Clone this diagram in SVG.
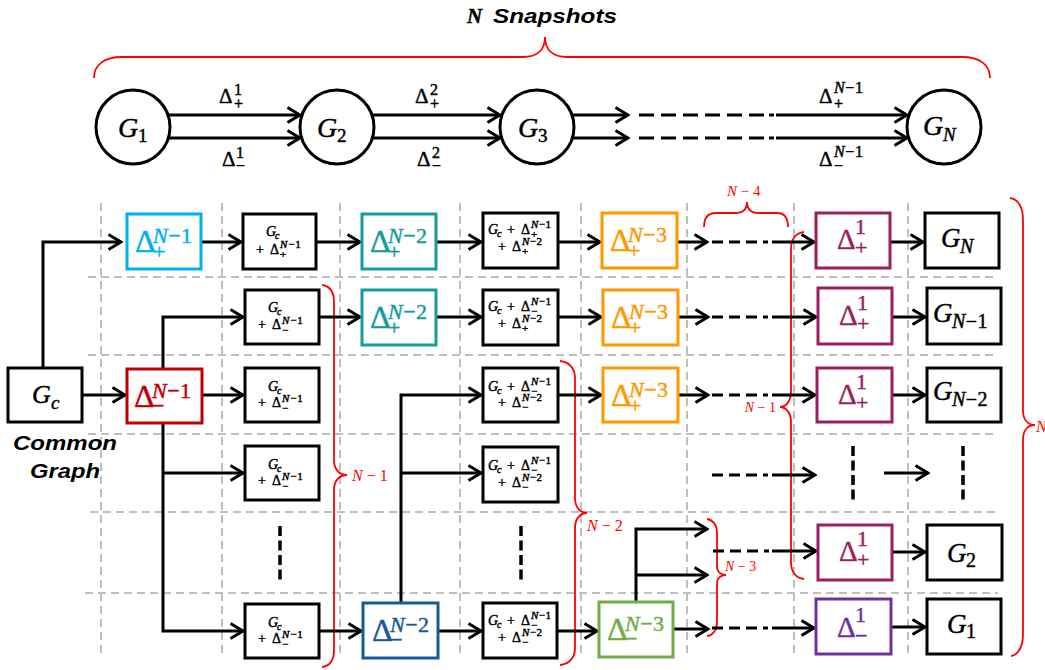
<svg xmlns="http://www.w3.org/2000/svg" width="1045" height="670" viewBox="0 0 1045 670">
<style>
.g{fill:none;stroke:#BFBFBF;stroke-width:2;stroke-dasharray:8 5}
.box{fill:#fff;stroke:#000;stroke-width:3}
.cb{fill:#fff;stroke-width:3}
.c{fill:none;stroke:#000;stroke-width:3}
.a{marker-end:url(#ah)}
.dd{fill:none;stroke:#000;stroke-width:3;stroke-dasharray:11 6 11 6 11 6 5 5}
.td{fill:none;stroke:#000;stroke-width:3;stroke-dasharray:15 7 15 7 15 7 15 7 15 7 15 5 5 4}
.vd{fill:none;stroke:#000;stroke-width:3.5;stroke-dasharray:10 4.5}
.br{fill:none;stroke:#FF0000;stroke-width:1.8}
.m{font-family:"Liberation Serif",serif;stroke:currentColor;stroke-width:0.45}
.i{font-style:italic}
.r{fill:#FF0000;font-family:"Liberation Serif",serif}
.s{font-family:"Liberation Sans",Arial,sans-serif;font-weight:bold;font-style:italic}
</style>
<defs>
<marker id="ah" markerUnits="userSpaceOnUse" markerWidth="16" markerHeight="18" viewBox="0 0 16 18" refX="14" refY="9" orient="auto">
<path d="M1.5,1.5 L14,9 L1.5,16.5" fill="none" stroke="#000" stroke-width="3"/>
</marker>
</defs>

<g id="title" color="#000">
<text class="m i" x="467" y="23" font-size="21" font-weight="bold">N</text>
<text class="s" x="493" y="23" font-size="21" textLength="124" lengthAdjust="spacingAndGlyphs">Snapshots</text>
</g>

<g id="grid">
<path class="g" d="M101,203V656M222,203V656M340,203V656M460,203V656M581,203V656M687,203V656M794,203V656M908,203V656"/>
<path class="g" d="M88,277H998M88,355H998M88,434H998M90,512H998M85,593H998"/>
</g>

<g id="braces">
<path class="br" d="M94,78 C94,65 104,57 122,57 H523 C537,57 545,50 545,37 C545,50 553,57 567,57 H962 C980,57 990,65 990,78"/>
<path class="br" d="M704,227 C704,218 708,213 716,213 H735 C743,213 747,209 747,202 C747,209 751,213 759,213 H777 C785,213 788,218 788,227"/>
<path class="br" d="M322,285 C330,286 334,292 334,302 V460 C334,469 339,475 347,475 C339,475 334,481 334,490 V650 C334,660 330,666 322,667"/>
<path class="br" d="M560,361 C569,362 575,368 575,378 V498 C575,507 580,513 587,513 C580,513 575,519 575,528 V648 C575,658 569,664 560,665"/>
<path class="br" d="M804,232 C796,233 791,239 791,249 V392 C791,401 786,407 780,407 C786,407 791,413 791,422 V562 C791,572 796,578 804,579"/>
<path class="br" d="M707,519 C713,520 717,525 717,533 V566 C717,572 721,575 726,575 C721,575 717,578 717,584 V622 C717,630 713,635 707,636"/>
<path class="br" d="M1010,198 C1018,199 1023,207 1023,220 V410 C1023,420 1028,425 1035,425 C1028,425 1023,430 1023,440 V634 C1023,647 1018,655 1011,656"/>
<text class="r" x="727" y="196" font-size="15"><tspan class="i">N</tspan> − 4</text>
<text class="r" x="352" y="481" font-size="16"><tspan class="i">N</tspan> − 1</text>
<text class="r" x="587" y="531" font-size="16"><tspan class="i">N</tspan> − 2</text>
<text class="r" x="776" y="412" font-size="14" text-anchor="end"><tspan class="i">N</tspan> − 1</text>
<text class="r" x="725" y="571" font-size="14"><tspan class="i">N</tspan> − 3</text>
<text class="r i" x="1036" y="432" font-size="16">N</text>
</g>

<g id="connectors">
<path class="c a" d="M168,115H300"/>
<path class="c a" d="M168,138H300"/>
<path class="c a" d="M372,115H500"/>
<path class="c a" d="M372,138H500"/>
<path class="c a" d="M572,115H628"/>
<path class="c a" d="M572,138H628"/>
<path class="td" d="M639,115H777M639,138H777"/>
<path class="c a" d="M776,115H907"/>
<path class="c a" d="M776,138H907"/>

<path class="c a" d="M43,368V242H121"/>
<path class="c a" d="M201,242H241"/>
<path class="c a" d="M316,242H360"/>
<path class="c a" d="M436,242H481"/>
<path class="c a" d="M558,242H600"/>
<path class="c a" d="M677,242H707"/>
<path class="dd" d="M712,242H773"/>
<path class="c a" d="M772,242H814"/>
<path class="c a" d="M890,242H923"/>

<path class="c a" d="M163,369V317H243"/>
<path class="c a" d="M319,317H360"/>
<path class="c a" d="M436,317H481"/>
<path class="c a" d="M558,317H601"/>
<path class="c a" d="M678,317H708"/>
<path class="dd" d="M712,317H773"/>
<path class="c a" d="M772,317H816"/>
<path class="c a" d="M892,317H925"/>

<path class="c a" d="M82,395H125"/>
<path class="c a" d="M202,395H243"/>
<path class="c a" d="M401,603V395H481"/>
<path class="c a" d="M558,395H601"/>
<path class="c a" d="M678,395H708"/>
<path class="dd" d="M712,395H773"/>
<path class="c a" d="M772,395H815"/>
<path class="c a" d="M892,395H925"/>

<path class="c a" d="M163,423V631H243"/>
<path class="c a" d="M163,473H243"/>
<path class="c a" d="M401,473H481"/>
<path class="dd" d="M712,475H773"/>
<path class="c a" d="M772,475H815"/>
<path class="vd" d="M853,446V500"/>
<path class="c a" d="M884,473H928"/>
<path class="vd" d="M963,446V500"/>

<path class="vd" d="M280,526V580"/>
<path class="vd" d="M521,526V580"/>
<path class="c a" d="M636,602V529H707"/>
<path class="c a" d="M636,575H707"/>
<path class="dd" d="M713,551H773"/>
<path class="c a" d="M772,551H816"/>
<path class="c a" d="M892,552H925"/>

<path class="c a" d="M319,631H361"/>
<path class="c a" d="M438,631H481"/>
<path class="c a" d="M557,631H597"/>
<path class="c a" d="M673,629H708"/>
<path class="dd" d="M712,628H773"/>
<path class="c a" d="M772,628H814"/>
<path class="c a" d="M891,627H925"/>
</g>

<g id="G1" color="#000"><circle class="box" cx="133" cy="127" r="37"/><text class="m i" x="118" y="137" font-size="28">G</text><text class="m" x="138" y="142" font-size="19">1</text></g>
<g id="G2" color="#000"><circle class="box" cx="337" cy="127" r="37"/><text class="m i" x="317" y="137" font-size="28">G</text><text class="m" x="337" y="142" font-size="19">2</text></g>
<g id="G3" color="#000"><circle class="box" cx="537" cy="127" r="37"/><text class="m i" x="518" y="137" font-size="28">G</text><text class="m" x="538" y="142" font-size="19">3</text></g>
<g id="GN" color="#000"><circle class="box" cx="944" cy="127" r="37"/><text class="m i" x="923" y="135" font-size="28">G</text><text class="m i" x="943" y="141" font-size="19">N</text></g>

<g id="top-labels" color="#000">
<text class="m" x="219" y="103" font-size="21">Δ</text><text class="m" x="234" y="95" font-size="16">1</text><text class="m" x="234" y="109" font-size="16">+</text>
<text class="m" x="222" y="166" font-size="21">Δ</text><text class="m" x="236" y="158" font-size="16">1</text><text class="m" x="236" y="171" font-size="16">−</text>
<text class="m" x="415" y="103" font-size="21">Δ</text><text class="m" x="430" y="95" font-size="16">2</text><text class="m" x="430" y="109" font-size="16">+</text>
<text class="m" x="417" y="166" font-size="21">Δ</text><text class="m" x="432" y="158" font-size="16">2</text><text class="m" x="432" y="171" font-size="16">−</text>
<text class="m" x="819" y="103" font-size="21">Δ</text><text class="m" x="834" y="93" font-size="16" letter-spacing="0.6"><tspan class="i">N</tspan>−1</text><text class="m" x="834" y="109" font-size="16">+</text>
<text class="m" x="819" y="166" font-size="21">Δ</text><text class="m" x="834" y="157" font-size="16" letter-spacing="0.6"><tspan class="i">N</tspan>−1</text><text class="m" x="834" y="171" font-size="16">−</text>
</g>

<g id="Gc" color="#000"><rect class="box" x="8" y="368" width="74" height="54"/><text class="m i" x="32" y="403" font-size="26">G</text><text class="m i" x="51" y="409" font-size="19">c</text></g>
<g id="common-label"><text class="s" x="13" y="450" font-size="20" textLength="104" lengthAdjust="spacingAndGlyphs">Common</text><text class="s" x="30" y="478" font-size="20" textLength="70" lengthAdjust="spacingAndGlyphs">Graph</text></g>

<g id="dP1" color="#00B0F0" fill="currentColor"><rect class="cb" stroke="#00B0F0" x="127" y="214" width="74" height="55"/><text class="m" x="135" y="252" font-size="32">Δ</text><text class="m" x="153" y="243" font-size="22" letter-spacing="0.5"><tspan class="i">N</tspan>−1</text><text class="m" x="153" y="259" font-size="22">+</text></g>
<g id="dM1" color="#C00000" fill="currentColor"><rect class="cb" stroke="#C00000" x="127" y="369" width="75" height="54"/><text class="m" x="134" y="407" font-size="32">Δ</text><text class="m" x="152" y="398" font-size="22" letter-spacing="0.5"><tspan class="i">N</tspan>−1</text><text class="m" x="152" y="413" font-size="22">−</text></g>

<g id="c2r1" color="#000"><rect class="box" x="243" y="214" width="73" height="55"/><text class="m i" x="266" y="236" font-size="14">G</text><text class="m i" x="275" y="239" font-size="10">c</text><text class="m" x="256" y="254" font-size="14">+</text><text class="m" x="270" y="254" font-size="14">Δ</text><text class="m" x="280" y="248" font-size="11" letter-spacing="0.8"><tspan class="i">N</tspan>−1</text><text class="m" x="280" y="258" font-size="11">+</text></g>
<g id="c2r2" color="#000"><rect class="box" x="245" y="290" width="74" height="54"/><text class="m i" x="268" y="312" font-size="14">G</text><text class="m i" x="277" y="315" font-size="10">c</text><text class="m" x="258" y="329" font-size="14">+</text><text class="m" x="272" y="329" font-size="14">Δ</text><text class="m" x="282" y="324" font-size="11" letter-spacing="0.8"><tspan class="i">N</tspan>−1</text><text class="m" x="282" y="334" font-size="11">−</text></g>
<g id="c2r3" color="#000"><rect class="box" x="245" y="368" width="74" height="54"/><text class="m i" x="268" y="391" font-size="14">G</text><text class="m i" x="277" y="394" font-size="10">c</text><text class="m" x="258" y="407" font-size="14">+</text><text class="m" x="272" y="407" font-size="14">Δ</text><text class="m" x="282" y="402" font-size="11" letter-spacing="0.8"><tspan class="i">N</tspan>−1</text><text class="m" x="282" y="412" font-size="11">−</text></g>
<g id="c2r4" color="#000"><rect class="box" x="245" y="446" width="74" height="54"/><text class="m i" x="268" y="469" font-size="14">G</text><text class="m i" x="277" y="472" font-size="10">c</text><text class="m" x="258" y="485" font-size="14">+</text><text class="m" x="272" y="485" font-size="14">Δ</text><text class="m" x="282" y="480" font-size="11" letter-spacing="0.8"><tspan class="i">N</tspan>−1</text><text class="m" x="282" y="490" font-size="11">−</text></g>
<g id="c2r6" color="#000"><rect class="box" x="245" y="604" width="74" height="54"/><text class="m i" x="268" y="627" font-size="14">G</text><text class="m i" x="277" y="630" font-size="10">c</text><text class="m" x="258" y="643" font-size="14">+</text><text class="m" x="272" y="643" font-size="14">Δ</text><text class="m" x="282" y="638" font-size="11" letter-spacing="0.8"><tspan class="i">N</tspan>−1</text><text class="m" x="282" y="648" font-size="11">−</text></g>

<g id="dP2a" color="#179B9B" fill="currentColor"><rect class="cb" stroke="#179B9B" x="362" y="214" width="74" height="55"/><text class="m" x="370" y="252" font-size="32">Δ</text><text class="m" x="388" y="243" font-size="22" letter-spacing="0.5"><tspan class="i">N</tspan>−2</text><text class="m" x="388" y="259" font-size="22">+</text></g>
<g id="dP2b" color="#179B9B" fill="currentColor"><rect class="cb" stroke="#179B9B" x="362" y="290" width="74" height="55"/><text class="m" x="370" y="328" font-size="32">Δ</text><text class="m" x="388" y="319" font-size="22" letter-spacing="0.5"><tspan class="i">N</tspan>−2</text><text class="m" x="388" y="335" font-size="22">+</text></g>
<g id="dM2" color="#175A9C" fill="currentColor"><rect class="cb" stroke="#175A9C" x="363" y="603" width="75" height="55"/><text class="m" x="372" y="641" font-size="32">Δ</text><text class="m" x="390" y="632" font-size="22" letter-spacing="0.5"><tspan class="i">N</tspan>−2</text><text class="m" x="390" y="647" font-size="22">−</text></g>

<g id="c4r1" color="#000"><rect class="box" x="483" y="213" width="75" height="55"/><text class="m i" x="488" y="234" font-size="14">G</text><text class="m i" x="497" y="237" font-size="10">c</text><text class="m" x="507" y="234" font-size="14">+</text><text class="m" x="521" y="234" font-size="14">Δ</text><text class="m" x="531" y="228" font-size="11" letter-spacing="0.5"><tspan class="i">N</tspan>−1</text><text class="m" x="531" y="238" font-size="11">+</text><text class="m" x="498" y="251" font-size="14">+</text><text class="m" x="512" y="251" font-size="14">Δ</text><text class="m" x="522" y="245" font-size="11" letter-spacing="0.5"><tspan class="i">N</tspan>−2</text><text class="m" x="522" y="255" font-size="11">+</text></g>
<g id="c4r2" color="#000"><rect class="box" x="483" y="290" width="75" height="55"/><text class="m i" x="488" y="311" font-size="14">G</text><text class="m i" x="497" y="314" font-size="10">c</text><text class="m" x="507" y="311" font-size="14">+</text><text class="m" x="521" y="311" font-size="14">Δ</text><text class="m" x="531" y="305" font-size="11" letter-spacing="0.5"><tspan class="i">N</tspan>−1</text><text class="m" x="531" y="315" font-size="11">−</text><text class="m" x="498" y="328" font-size="14">+</text><text class="m" x="512" y="328" font-size="14">Δ</text><text class="m" x="522" y="322" font-size="11" letter-spacing="0.5"><tspan class="i">N</tspan>−2</text><text class="m" x="522" y="332" font-size="11">+</text></g>
<g id="c4r3" color="#000"><rect class="box" x="483" y="368" width="75" height="54"/><text class="m i" x="488" y="391" font-size="14">G</text><text class="m i" x="497" y="394" font-size="10">c</text><text class="m" x="507" y="391" font-size="14">+</text><text class="m" x="521" y="391" font-size="14">Δ</text><text class="m" x="531" y="385" font-size="11" letter-spacing="0.5"><tspan class="i">N</tspan>−1</text><text class="m" x="531" y="395" font-size="11">−</text><text class="m" x="498" y="407" font-size="14">+</text><text class="m" x="512" y="407" font-size="14">Δ</text><text class="m" x="522" y="401" font-size="11" letter-spacing="0.5"><tspan class="i">N</tspan>−2</text><text class="m" x="522" y="411" font-size="11">−</text></g>
<g id="c4r4" color="#000"><rect class="box" x="483" y="447" width="75" height="55"/><text class="m i" x="488" y="470" font-size="14">G</text><text class="m i" x="497" y="473" font-size="10">c</text><text class="m" x="507" y="470" font-size="14">+</text><text class="m" x="521" y="470" font-size="14">Δ</text><text class="m" x="531" y="464" font-size="11" letter-spacing="0.5"><tspan class="i">N</tspan>−1</text><text class="m" x="531" y="474" font-size="11">−</text><text class="m" x="498" y="487" font-size="14">+</text><text class="m" x="512" y="487" font-size="14">Δ</text><text class="m" x="522" y="481" font-size="11" letter-spacing="0.5"><tspan class="i">N</tspan>−2</text><text class="m" x="522" y="491" font-size="11">−</text></g>
<g id="c4r6" color="#000"><rect class="box" x="483" y="603" width="74" height="55"/><text class="m i" x="488" y="625" font-size="14">G</text><text class="m i" x="497" y="628" font-size="10">c</text><text class="m" x="507" y="625" font-size="14">+</text><text class="m" x="521" y="625" font-size="14">Δ</text><text class="m" x="531" y="619" font-size="11" letter-spacing="0.5"><tspan class="i">N</tspan>−1</text><text class="m" x="531" y="629" font-size="11">−</text><text class="m" x="498" y="642" font-size="14">+</text><text class="m" x="512" y="642" font-size="14">Δ</text><text class="m" x="522" y="636" font-size="11" letter-spacing="0.5"><tspan class="i">N</tspan>−2</text><text class="m" x="522" y="646" font-size="11">−</text></g>

<g id="dP3a" color="#FF9900" fill="currentColor"><rect class="cb" stroke="#FF9900" x="602" y="213" width="75" height="55"/><text class="m" x="610" y="251" font-size="32">Δ</text><text class="m" x="628" y="242" font-size="22" letter-spacing="0.5"><tspan class="i">N</tspan>−3</text><text class="m" x="628" y="258" font-size="22">+</text></g>
<g id="dP3b" color="#FF9900" fill="currentColor"><rect class="cb" stroke="#FF9900" x="603" y="290" width="75" height="55"/><text class="m" x="611" y="328" font-size="32">Δ</text><text class="m" x="629" y="319" font-size="22" letter-spacing="0.5"><tspan class="i">N</tspan>−3</text><text class="m" x="629" y="335" font-size="22">+</text></g>
<g id="dP3c" color="#FF9900" fill="currentColor"><rect class="cb" stroke="#FF9900" x="603" y="368" width="75" height="54"/><text class="m" x="611" y="406" font-size="32">Δ</text><text class="m" x="629" y="397" font-size="22" letter-spacing="0.5"><tspan class="i">N</tspan>−3</text><text class="m" x="629" y="413" font-size="22">+</text></g>
<g id="dM3" color="#70AD47" fill="currentColor"><rect class="cb" stroke="#70AD47" x="599" y="602" width="74" height="55"/><text class="m" x="607" y="640" font-size="32">Δ</text><text class="m" x="625" y="631" font-size="22" letter-spacing="0.5"><tspan class="i">N</tspan>−3</text><text class="m" x="625" y="646" font-size="22">−</text></g>

<g id="d1a" color="#9A1F5E" fill="currentColor"><rect class="cb" stroke="#9A1F5E" x="816" y="213" width="74" height="55"/><text class="m" x="837" y="249" font-size="29">Δ</text><text class="m" x="855" y="234" font-size="22">1</text><text class="m" x="855" y="255" font-size="22">+</text></g>
<g id="d1b" color="#9A1F5E" fill="currentColor"><rect class="cb" stroke="#9A1F5E" x="818" y="288" width="74" height="56"/><text class="m" x="839" y="325" font-size="29">Δ</text><text class="m" x="857" y="310" font-size="22">1</text><text class="m" x="857" y="331" font-size="22">+</text></g>
<g id="d1c" color="#9A1F5E" fill="currentColor"><rect class="cb" stroke="#9A1F5E" x="817" y="368" width="75" height="54"/><text class="m" x="838" y="404" font-size="29">Δ</text><text class="m" x="856" y="389" font-size="22">1</text><text class="m" x="856" y="410" font-size="22">+</text></g>
<g id="d1d" color="#9A1F5E" fill="currentColor"><rect class="cb" stroke="#9A1F5E" x="818" y="525" width="74" height="55"/><text class="m" x="839" y="561" font-size="29">Δ</text><text class="m" x="857" y="546" font-size="22">1</text><text class="m" x="857" y="567" font-size="22">+</text></g>
<g id="d1m" color="#7030A0" fill="currentColor"><rect class="cb" stroke="#7030A0" x="816" y="599" width="75" height="55"/><text class="m" x="837" y="637" font-size="29">Δ</text><text class="m" x="855" y="622" font-size="22">1</text><text class="m" x="855" y="643" font-size="22">−</text></g>

<g id="oGN" color="#000"><rect class="box" x="925" y="213" width="74" height="55"/><text class="m i" x="941" y="247" font-size="27">G</text><text class="m i" x="960" y="253" font-size="20">N</text></g>
<g id="oGN1" color="#000"><rect class="box" x="927" y="288" width="74" height="56"/><text class="m i" x="933" y="322" font-size="27">G</text><text class="m" x="952" y="328" font-size="20" letter-spacing="0.5"><tspan class="i">N</tspan>−1</text></g>
<g id="oGN2" color="#000"><rect class="box" x="927" y="368" width="74" height="54"/><text class="m i" x="933" y="400" font-size="27">G</text><text class="m" x="952" y="406" font-size="20" letter-spacing="0.5"><tspan class="i">N</tspan>−2</text></g>
<g id="oG2" color="#000"><rect class="box" x="927" y="525" width="75" height="55"/><text class="m i" x="947" y="562" font-size="27">G</text><text class="m" x="966" y="567" font-size="20">2</text></g>
<g id="oG1" color="#000"><rect class="box" x="927" y="599" width="74" height="55"/><text class="m i" x="947" y="633" font-size="27">G</text><text class="m" x="966" y="638" font-size="20">1</text></g>
</svg>
